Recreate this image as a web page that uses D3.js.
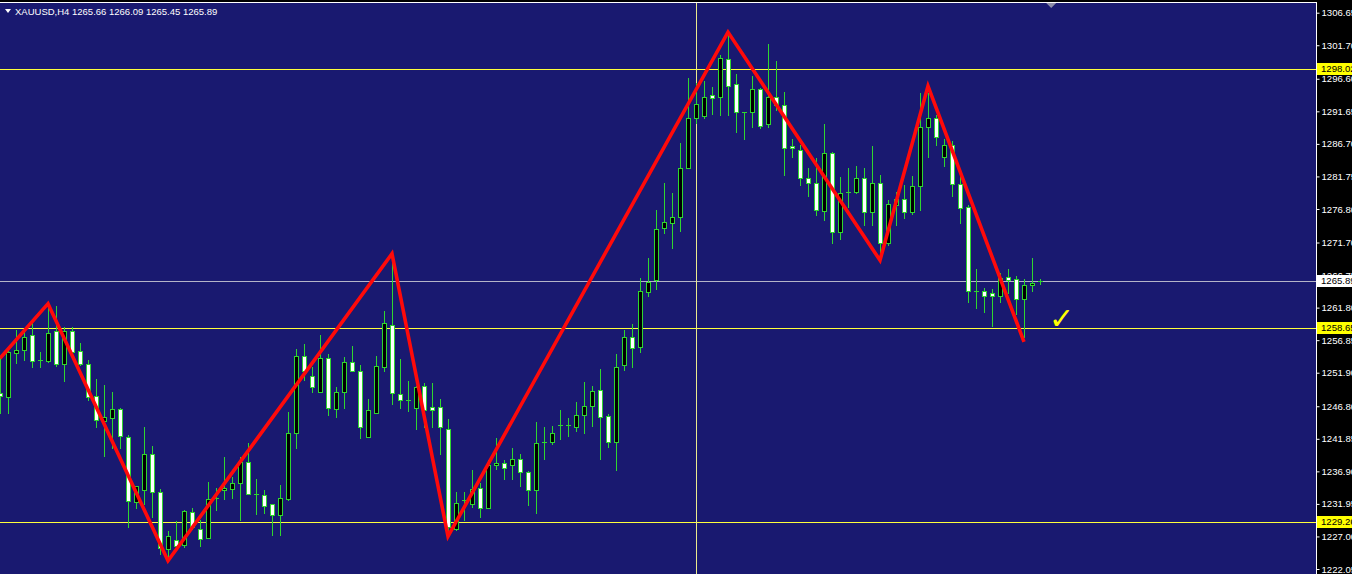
<!DOCTYPE html>
<html><head><meta charset="utf-8">
<script src="https://cdn.jsdelivr.net/npm/d3@7"></script>
<style>html,body{margin:0;padding:0;background:#000;overflow:hidden}svg{display:block}</style>
</head><body>
<script>
const chartTitle = "XAUUSD,H4  1265.66 1266.09 1265.45 1265.89";
const opens = [1248.8,1248.2,1254.9,1255.3,1257.7,1253.8,1253.7,1258.2,1253.2,1258.2,1255.2,1253.3,1248.3,1244.5,1245.0,1246.4,1242.1,1232.2,1234.0,1239.5,
1233.7,1225.1,1226.4,1225.7,1230.7,1228.1,1226.7,1232.7,1234.1,1234.2,1235.2,1238.3,1233.5,1233.3,1231.9,1230.2,1232.7,1242.7,1254.5,1251.4,
1249.0,1254.2,1246.4,1248.9,1253.5,1252.2,1242.2,1245.8,1252.8,1259.1,1248.7,1247.6,1246.5,1249.9,1246.7,1246.7,1243.4,1228.1,1232.5,1232.0,
1234.3,1231.3,1237.9,1238.1,1237.8,1238.8,1236.8,1234.0,1241.2,1241.3,1243.8,1243.8,1243.7,1245.4,1246.9,1249.3,1245.3,1241.3,1253.0,1257.4,
1255.8,1264.2,1266.0,1273.9,1274.6,1275.6,1283.1,1290.6,1291.0,1294.1,1293.8,1299.6,1295.8,1291.5,1291.5,1295.0,1289.7,1293.9,1292.6,1286.4,
1285.8,1281.5,1280.7,1276.5,1285.3,1273.3,1279.3,1279.4,1281.5,1276.4,1280.7,1271.7,1277.4,1278.3,1276.4,1280.3,1289.3,1290.7,1284.7,1286.6,
1280.6,1277.1,1264.3,1264.4,1264.0,1263.5,1266.4,1266.1,1263.1,1265.3,1265.66];
const highs = [1254.1,1255.4,1258.4,1258.1,1259.4,1255.1,1261.9,1262.1,1258.9,1258.9,1256.4,1253.8,1250.9,1250.1,1248.9,1246.6,1242.4,1234.7,1243.7,1240.7,
1234.2,1227.8,1229.3,1231.0,1231.3,1229.5,1235.3,1234.3,1239.1,1236.0,1239.1,1241.2,1235.7,1234.1,1232.0,1234.9,1245.9,1255.5,1256.2,1252.8,
1257.6,1254.7,1249.8,1254.3,1256.0,1253.1,1247.9,1254.4,1261.3,1268.7,1254.0,1250.6,1249.9,1250.4,1250.3,1247.9,1244.8,1233.8,1233.8,1237.1,
1235.1,1238.6,1241.9,1238.6,1240.4,1239.6,1237.0,1244.4,1243.7,1243.8,1246.3,1245.0,1247.5,1250.5,1249.9,1252.4,1245.6,1254.7,1258.4,1259.3,
1266.3,1269.4,1276.6,1280.7,1279.3,1286.8,1296.7,1295.9,1296.2,1295.4,1300.2,1303.5,1297.3,1291.6,1297.0,1295.2,1301.9,1299.3,1294.6,1287.5,
1286.5,1283.0,1284.6,1289.7,1285.5,1281.7,1283.1,1283.3,1283.0,1286.4,1282.0,1278.2,1279.4,1280.4,1281.8,1294.5,1294.5,1291.1,1287.4,1287.1,
1282.1,1277.4,1267.6,1264.8,1264.7,1267.0,1267.6,1266.6,1266.1,1269.3,1266.09];
const lows = [1245.7,1245.8,1253.4,1253.8,1252.8,1252.7,1253.5,1252.9,1250.7,1254.8,1253.1,1247.8,1243.7,1239.3,1240.4,1240.4,1228.5,1231.3,1232.0,1230.0,
1224.4,1223.7,1225.4,1225.4,1228.1,1225.6,1226.7,1231.0,1232.7,1232.8,1229.5,1233.4,1230.4,1230.5,1227.2,1227.2,1232.5,1240.4,1250.8,1248.9,
1249.0,1245.4,1245.1,1246.6,1252.1,1241.9,1242.2,1245.8,1252.1,1247.2,1246.5,1246.1,1243.4,1243.7,1243.7,1239.6,1228.0,1228.0,1229.5,1231.5,
1230.0,1231.3,1237.2,1235.8,1235.7,1234.6,1231.8,1230.6,1238.8,1241.0,1241.8,1242.3,1243.1,1242.8,1243.8,1238.8,1240.6,1237.1,1252.3,1252.7,
1255.1,1263.5,1264.7,1273.2,1270.9,1273.5,1283.0,1289.8,1290.7,1291.3,1291.1,1291.1,1288.5,1287.5,1289.3,1289.1,1289.3,1291.8,1282.0,1284.7,
1280.4,1278.7,1275.9,1275.1,1271.6,1272.3,1277.1,1279.3,1274.3,1274.3,1269.5,1271.3,1274.4,1275.4,1276.0,1276.7,1284.7,1286.5,1283.4,1278.7,
1274.6,1262.6,1261.8,1261.1,1259.0,1262.7,1264.0,1260.9,1257.4,1264.4,1265.45];
const closes = [1248.4,1255.0,1255.3,1257.4,1253.7,1253.9,1257.9,1253.3,1258.2,1255.0,1253.2,1248.2,1244.7,1245.1,1246.4,1242.3,1232.4,1234.6,1239.5,1233.7,
1225.2,1227.1,1225.6,1230.9,1228.4,1226.6,1232.7,1232.9,1234.3,1235.2,1238.3,1233.5,1233.4,1231.7,1230.2,1232.8,1242.7,1254.5,1252.1,1249.7,
1254.1,1246.5,1249.0,1253.5,1252.2,1243.7,1246.2,1252.9,1259.4,1248.8,1247.7,1247.7,1249.8,1246.3,1246.3,1243.6,1228.4,1232.1,1232.6,1234.2,
1231.4,1237.9,1238.2,1237.4,1238.8,1236.8,1234.0,1241.2,1241.3,1242.8,1243.9,1243.9,1245.5,1246.8,1249.1,1245.2,1241.4,1252.8,1257.4,1255.6,
1264.4,1265.7,1273.7,1274.8,1275.6,1283.1,1290.6,1292.7,1293.9,1293.7,1299.7,1295.5,1291.5,1291.4,1295.0,1289.4,1293.9,1292.6,1286.0,1286.0,
1281.5,1280.7,1276.6,1285.3,1273.3,1279.3,1279.4,1281.5,1276.3,1280.7,1271.7,1277.6,1278.3,1276.4,1280.3,1289.2,1290.7,1287.7,1286.6,1280.6,
1276.9,1264.3,1264.4,1263.5,1263.5,1266.3,1266.0,1263.1,1265.3,1265.5,1265.89];
const axisTicks = [1306.65,1301.70,1296.60,1291.65,1286.70,1281.75,1276.80,1271.70,1266.75,1261.80,1256.85,1251.90,1246.80,1241.85,1236.90,1231.95,1227.00,1222.05];
const levelPrices = [1298.02, 1258.65, 1229.26];
const bidPrice = 1265.89;
const zigzagIndex = [0, 6, 21, 49, 56, 91, 110, 116, 128];
const zigzagPrice = [1254.1, 1262.4, 1223.3, 1270.0, 1227.0, 1303.7, 1269.0, 1295.5, 1256.6];
const crosshairIndex = 87;
const checkIndex = 132.7, checkPrice = 1258.6;
const shiftIndex = 131.4;

const W = 1352, H = 574, plotW = 1316;
const GREEN = "#2fd62f", BG = "#191970";
const x = d3.scaleLinear().domain([0, 164.5]).range([0, plotW]);
const y = d3.scaleLinear().domain([1221.29, 1308.58]).range([H, 0]);

const svg = d3.select("body").append("svg").attr("width", W).attr("height", H);
svg.append("rect").attr("width", W).attr("height", H).attr("fill", "#000");
svg.append("defs").append("clipPath").attr("id", "plot").append("rect")
  .attr("x", 0).attr("y", 3).attr("width", plotW).attr("height", H - 3);
svg.append("rect").attr("x", 0).attr("y", 3).attr("width", plotW).attr("height", H - 3).attr("fill", BG);

const plot = svg.append("g").attr("clip-path", "url(#plot)");

// level lines
plot.selectAll("line.lvl").data(levelPrices).join("line").attr("class", "lvl")
  .attr("x1", 0).attr("x2", plotW)
  .attr("y1", d => Math.round(y(d)) + 0.5).attr("y2", d => Math.round(y(d)) + 0.5)
  .attr("stroke", "#ffff3c").attr("stroke-width", 1);
plot.append("line").attr("x1", 0).attr("x2", plotW)
  .attr("y1", Math.round(y(bidPrice)) + 0.5).attr("y2", Math.round(y(bidPrice)) + 0.5)
  .attr("stroke", "#b4b4c8").attr("stroke-width", 1);
plot.append("line")
  .attr("x1", Math.round(x(crosshairIndex)) + 0.5).attr("x2", Math.round(x(crosshairIndex)) + 0.5)
  .attr("y1", 0).attr("y2", H).attr("stroke", "#eaea8c").attr("stroke-width", 1);

// candles
const data = opens.map((o, i) => ({ i, o, h: highs[i], l: lows[i], c: closes[i] }));
const cg = plot.append("g");
data.forEach(d => {
  const cx = Math.round(x(d.i));
  cg.append("line").attr("x1", cx + 0.5).attr("x2", cx + 0.5)
    .attr("y1", Math.round(y(d.h))).attr("y2", Math.round(y(d.l)) + 1)
    .attr("stroke", GREEN).attr("stroke-width", 1);
  const top = Math.round(y(Math.max(d.o, d.c)));
  const bot = Math.round(y(Math.min(d.o, d.c)));
  if (bot - top < 2) {
    cg.append("line").attr("x1", cx - 2).attr("x2", cx + 3)
      .attr("y1", top + 0.5).attr("y2", top + 0.5).attr("stroke", GREEN).attr("stroke-width", 1);
  } else {
    cg.append("rect").attr("x", cx - 1.5).attr("y", top + 0.5)
      .attr("width", 4).attr("height", bot - top)
      .attr("fill", d.c >= d.o ? "#000" : "#fff")
      .attr("stroke", GREEN).attr("stroke-width", 1);
  }
});

// zigzag
const zz = zigzagIndex.map((k, j) => [k, zigzagPrice[j]]);
plot.append("path").datum(zz)
  .attr("d", d3.line().x(d => x(d[0])).y(d => y(d[1])))
  .attr("fill", "none").attr("stroke", "#ff0a0a").attr("stroke-width", 3.6)
  .attr("stroke-linejoin", "miter").attr("stroke-miterlimit", 10);

// check mark
plot.append("text").attr("x", x(checkIndex)).attr("y", y(checkPrice))
  .attr("text-anchor", "middle").attr("font-family", "DejaVu Sans").attr("font-size", 30)
  .attr("font-weight", "bold").attr("fill", "#ffff00").text("\u2713");

// shift marker
const sx = x(shiftIndex);
plot.append("path").attr("d", `M${sx - 5},3L${sx + 5},3L${sx},8Z`).attr("fill", "#8c8ca8");

// top frame
svg.append("rect").attr("x", 0).attr("y", 0).attr("width", W).attr("height", 2).attr("fill", "#000");
svg.append("line").attr("x1", 0).attr("x2", plotW + 1).attr("y1", 2.5).attr("y2", 2.5).attr("stroke", "#fff");

// title
svg.append("path").attr("d", "M5,9L11,9L8,13Z").attr("fill", "#fff");
svg.append("text").attr("x", 15).attr("y", 15).attr("font-family", "Liberation Sans")
  .attr("font-size", 9.5).attr("fill", "#fff").text(chartTitle);

// axis
const axis = d3.axisRight(y).tickValues(axisTicks).tickFormat(d3.format(".2f")).tickSize(3).tickPadding(2);
const ag = svg.append("g").attr("transform", `translate(${plotW + 0.5},0)`).call(axis);
ag.select(".domain").attr("stroke", "#fff").attr("d", `M0,2V${H}`);
ag.selectAll(".tick line").attr("stroke", "#fff");
ag.selectAll(".tick text").attr("fill", "#fff").attr("font-family", "Liberation Sans").attr("font-size", 9.6);

// price labels on axis
const labels = levelPrices.map(p => ({ p, bg: "#ffff00" })).concat([{ p: bidPrice, bg: "#ffffff" }]);
const lg = svg.append("g");
labels.forEach(d => {
  const yy = Math.round(y(d.p));
  lg.append("rect").attr("x", plotW + 1).attr("y", yy - 6).attr("width", W - plotW).attr("height", 12).attr("fill", d.bg);
  lg.append("text").attr("x", plotW + 5).attr("y", yy).attr("dy", "0.36em")
    .attr("font-family", "Liberation Sans").attr("font-size", 9.6).attr("fill", "#000").text(d3.format(".2f")(d.p));
});
</script>
</body></html>
